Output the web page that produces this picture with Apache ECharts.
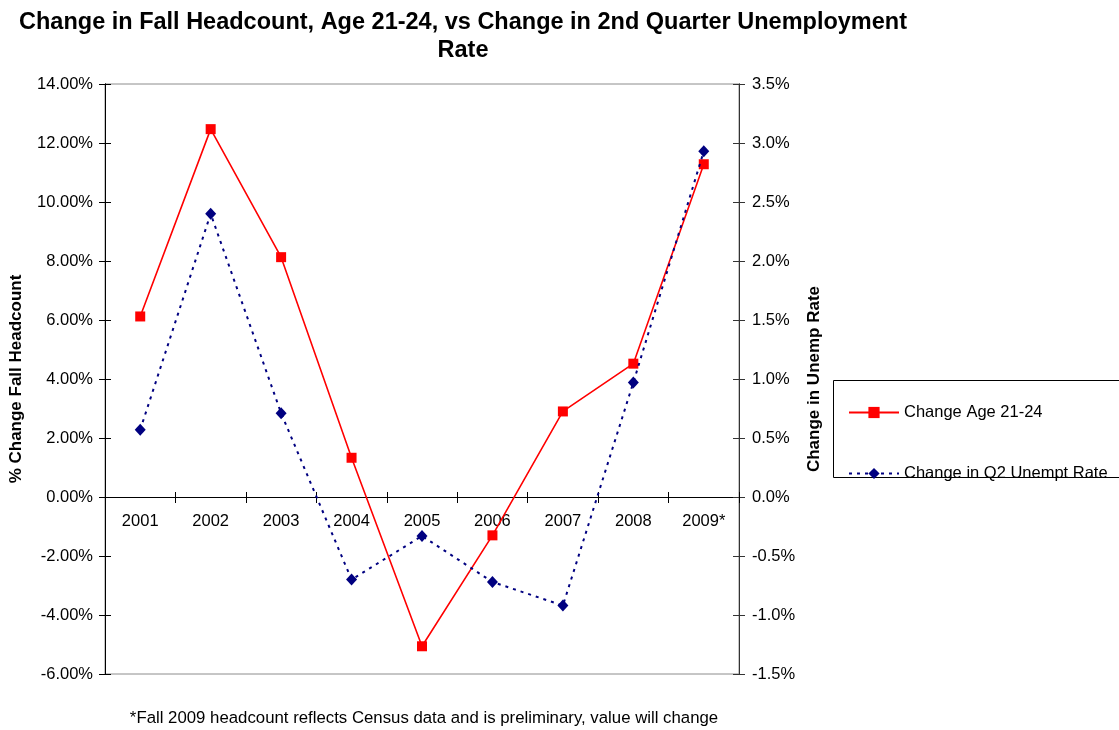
<!DOCTYPE html>
<html>
<head>
<meta charset="utf-8">
<script src="https://cdn.jsdelivr.net/npm/echarts@6/dist/echarts.min.js"></script>
<style>
  html, body { margin: 0; padding: 0; background: #fff; }
  #chart { width: 1119px; height: 730px; }
</style>
</head>
<body>
<div id="chart"></div>
<script>
// Fall headcount change (age 21-24) vs change in Q2 unemployment rate
const years = ['2001', '2002', '2003', '2004', '2005', '2006', '2007', '2008', '2009*'];
const headcountChange = [6.12, 12.47, 8.13, 1.33, -5.06, -1.30, 2.90, 4.52, 11.28];   // percent
const unempRateChange = [0.57, 2.40, 0.71, -0.70, -0.33, -0.72, -0.92, 0.97, 2.93];   // percentage points

const FONT = '"Liberation Sans", Arial, sans-serif';
const FS = 16.5;
const chart = echarts.init(document.getElementById('chart'), null, { renderer: 'canvas' });

const labelStyle = { color: '#000', fontFamily: FONT, fontSize: FS };

// plot box
const GRID = { left: 104, right: 380, top: 84, bottom: 56 };
const PLOT_H = 730 - GRID.top - GRID.bottom;
const Y_MIN = -6, Y_MAX = 14;
// the category axis sits on the 0% line of the left scale
const zeroOffset = -PLOT_H * (0 - Y_MIN) / (Y_MAX - Y_MIN);

function leftAxis(extra) {
  return Object.assign({
    type: 'value', position: 'left', min: Y_MIN, max: Y_MAX, interval: 2,
    axisLine: { show: true, onZero: false, lineStyle: { color: '#000', width: 1 } },
    splitLine: { show: false }
  }, extra);
}
function rightAxis(extra) {
  return Object.assign({
    type: 'value', position: 'right', min: -1.5, max: 3.5, interval: 0.5,
    axisLine: { show: true, onZero: false, lineStyle: { color: '#333', width: 1 } },
    splitLine: { show: false }
  }, extra);
}

chart.setOption({
  animation: false,
  backgroundColor: '#fff',
  title: [
    {
      text: 'Change in Fall Headcount, Age 21-24, vs Change in 2nd Quarter Unemployment\nRate',
      left: 458, top: 4, textAlign: 'center',
      textStyle: { fontFamily: FONT, fontSize: 23.5, fontWeight: 'bold', color: '#000', lineHeight: 28 }
    },
    {
      text: '*Fall 2009 headcount reflects Census data and is preliminary, value will change',
      left: 419, top: 705, textAlign: 'center',
      textStyle: { fontFamily: FONT, fontSize: 16.8, fontWeight: 'normal', color: '#000' }
    }
  ],
  grid: Object.assign({
    show: true, borderColor: '#8c8c8c', borderWidth: 1, backgroundColor: 'transparent'
  }, GRID),
  legend: {
    orient: 'vertical', left: 848, top: 404, padding: 0,
    itemWidth: 50, itemHeight: 14, itemGap: 44,
    textStyle: { fontFamily: FONT, fontSize: FS, color: '#000' },
    data: ['Change Age 21-24', 'Change in Q2 Unempt Rate']
  },
  graphic: [{
    type: 'rect', shape: { x: 833.5, y: 380.5, width: 300, height: 97 },
    style: { fill: 'none', stroke: '#000', lineWidth: 1 }, z: 0, silent: true
  }],
  xAxis: [
    {
      type: 'category', data: years, boundaryGap: true, position: 'bottom', offset: zeroOffset,
      axisLine: { show: true, onZero: false, lineStyle: { color: '#000', width: 1 } },
      axisTick: { show: true, inside: false, length: 6, interval: 0, lineStyle: { color: '#000' } },
      axisLabel: Object.assign({ margin: 16, interval: 0 }, labelStyle)
    },
    {
      type: 'category', data: years, boundaryGap: true, position: 'bottom', offset: zeroOffset,
      axisLine: { show: false, onZero: false },
      axisTick: { show: true, inside: true, length: 5, interval: 0, lineStyle: { color: '#000' } },
      axisLabel: { show: false }
    }
  ],
  yAxis: [
    leftAxis({
      name: '% Change Fall Headcount', nameLocation: 'middle', nameGap: 80, nameRotate: 90,
      nameTextStyle: { fontFamily: FONT, fontSize: 17, fontWeight: 'bold', color: '#000' },
      axisTick: { show: true, inside: false, length: 6, lineStyle: { color: '#000' } },
      axisLabel: Object.assign({ margin: 12, formatter: v => v.toFixed(2) + '%' }, labelStyle)
    }),
    rightAxis({
      name: 'Change in Unemp Rate', nameLocation: 'middle', nameGap: 67, nameRotate: 90,
      nameTextStyle: { fontFamily: FONT, fontSize: 17, fontWeight: 'bold', color: '#000' },
      axisTick: { show: true, inside: false, length: 6, lineStyle: { color: '#333' } },
      axisLabel: Object.assign({ margin: 13, formatter: v => v.toFixed(1) + '%' }, labelStyle)
    }),
    leftAxis({
      axisTick: { show: true, inside: true, length: 6, lineStyle: { color: '#000' } },
      axisLabel: { show: false }
    }),
    rightAxis({
      axisTick: { show: true, inside: true, length: 6, lineStyle: { color: '#333' } },
      axisLabel: { show: false }
    })
  ],
  series: [
    {
      name: 'Change Age 21-24', type: 'line', xAxisIndex: 0, yAxisIndex: 0,
      data: headcountChange,
      symbol: 'rect', symbolSize: 10,
      itemStyle: { color: '#ff0000' },
      lineStyle: { color: '#ff0000', width: 1.6 },
      z: 3
    },
    {
      name: 'Change in Q2 Unempt Rate', type: 'line', xAxisIndex: 0, yAxisIndex: 1,
      data: unempRateChange,
      symbol: 'diamond', symbolSize: [11, 12],
      itemStyle: { color: '#000080' },
      lineStyle: { color: '#000080', width: 2, type: [3, 5] },
      z: 4
    }
  ]
});
</script>
</body>
</html>
